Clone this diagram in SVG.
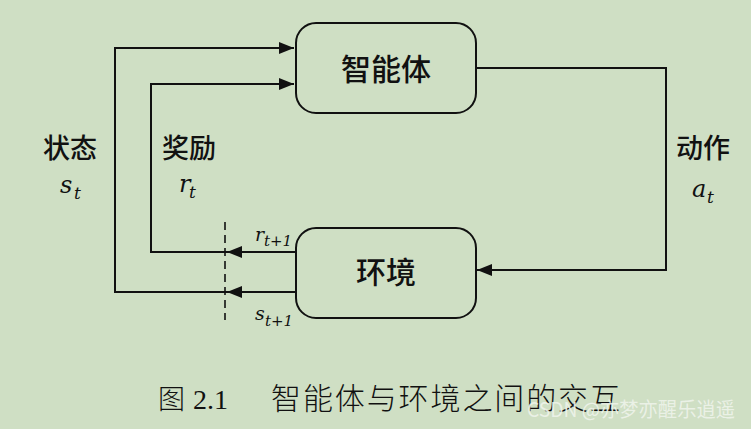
<svg xmlns="http://www.w3.org/2000/svg" width="751" height="429" viewBox="0 0 751 429">
<defs>
<marker id="ah" markerWidth="15" markerHeight="12" refX="15" refY="6" orient="auto" markerUnits="userSpaceOnUse">
<path d="M0,0 L15,6 L0,12 Z" fill="#111"/>
</marker>
<style>
.box{fill:none;stroke:#111;stroke-width:2}
.ln{fill:none;stroke:#111;stroke-width:2}
.cn{font-family:"Noto Sans CJK SC",sans-serif;fill:#111;font-weight:500}
.m{font-family:"DejaVu Serif","Liberation Serif",serif;font-style:italic;fill:#111}
</style>
</defs>
<rect width="751" height="429" fill="#cfdfc4"/>
<g id="agent">
<rect class="box" x="296" y="23" width="180" height="90" rx="20"/>
<text class="cn" x="386" y="80" font-size="30" text-anchor="middle">智能体</text>
</g>
<g id="env">
<rect class="box" x="296" y="228" width="180" height="90" rx="20"/>
<text class="cn" x="386" y="283" font-size="30" text-anchor="middle">环境</text>
</g>
<g id="connectors">
<polyline class="ln" points="296,292 115,292 115,48 294,48" marker-end="url(#ah)"/>
<polyline class="ln" points="296,252 151,252 151,84 294,84" marker-end="url(#ah)"/>
<line class="ln" x1="296" y1="252" x2="227" y2="252" marker-end="url(#ah)"/>
<line class="ln" x1="296" y1="292" x2="227" y2="292" marker-end="url(#ah)"/>
<polyline class="ln" points="476,68 666,68 666,270 477,270" marker-end="url(#ah)"/>
<line x1="225" y1="222" x2="225" y2="320" stroke="#111" stroke-width="1.6" stroke-dasharray="8,5"/>
</g>
<g id="labels">
<text class="cn" x="70" y="158" font-size="27" text-anchor="middle">状态</text>
<text class="m" x="60" y="193" font-size="24">s</text><text class="m" x="74" y="199" font-size="17">t</text>
<text class="cn" x="189" y="158" font-size="27" text-anchor="middle">奖励</text>
<text class="m" x="179" y="192" font-size="24">r</text><text class="m" x="189" y="198" font-size="17">t</text>
<text class="cn" x="703" y="158" font-size="27" text-anchor="middle">动作</text>
<text class="m" x="692" y="197" font-size="24">a</text><text class="m" x="707" y="203" font-size="17">t</text>
<text class="m" x="255" y="241" font-size="19">r</text><text class="m" x="264" y="246" font-size="15">t+1</text>
<text class="m" x="255" y="320" font-size="19">s</text><text class="m" x="265" y="326" font-size="15">t+1</text>
<text x="158" y="409" font-family="Noto Sans CJK SC,serif" font-size="27" fill="#111" font-weight="300">图</text>
<text x="193" y="409" font-family="Liberation Serif,serif" font-size="28" fill="#111">2.1</text>
<text x="271" y="409" font-family="Noto Sans CJK SC,serif" font-size="30" fill="#111" font-weight="300" textLength="349" lengthAdjust="spacing">智能体与环境之间的交互</text>
<text x="527" y="417" font-family="Noto Sans CJK SC,sans-serif" font-size="20" fill="#eef3ea" opacity="0.9" textLength="208" lengthAdjust="spacingAndGlyphs">CSDN @亦梦亦醒乐逍遥</text>
</g>
</svg>
